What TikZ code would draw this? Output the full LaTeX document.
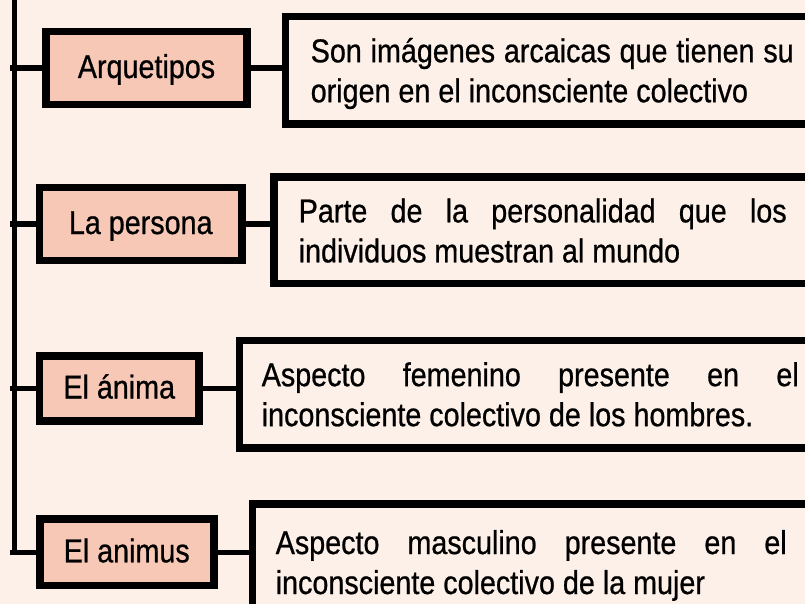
\documentclass[tikz,border=0pt]{standalone}
\usepackage{fontspec}
\setmainfont{Liberation Sans}[FakeStretch=0.87, FakeBold=0.7]
\definecolor{bgpeach}{RGB}{253,240,232}
\definecolor{boxsalmon}{RGB}{247,200,182}
\hyphenpenalty=10000
\exhyphenpenalty=10000
\tolerance=10000
% same top and bottom room in every text box
\newcommand{\topstrut}{\rule{0pt}{32pt}}
\newcommand{\botstrut}{\rule[-8pt]{0pt}{8pt}}

\begin{document}
\begin{tikzpicture}[
    x=1pt, y=-1pt,
    termbox/.style={rectangle, draw, line width=7.5pt, fill=boxsalmon, inner sep=0pt,
        text height=26pt, text depth=6pt, font={\fontsize{33}{40}\selectfont}},
    descbox/.style={rectangle, draw, line width=7.5pt, fill=bgpeach, anchor=west, align=justify,
        font={\fontsize{33}{40}\selectfont}},
    link/.style={line width=5.5pt}
]
    \useasboundingbox (0,0) rectangle (805,604);
    \clip (0,0) rectangle (805,604);
    \fill[bgpeach] (0,0) rectangle (805,604);

    \node[termbox, minimum width=201pt, minimum height=73pt] (b1) at (146.5,68) {Arquetipos};
    \node[termbox, minimum width=202.5pt, minimum height=73pt] (b2) at (140.75,224) {La persona};
    \node[termbox, minimum width=159.5pt, minimum height=65.4pt] (b3) at (119.25,388.5) {El ánima};
    \node[termbox, minimum width=174pt, minimum height=66.3pt] (b4) at (126.75,552.3) {El animus};

    \node[descbox, text width=483pt, inner xsep=25.5pt, minimum height=107.5pt] (d1) at (281.5,70.25)
        {\topstrut Son imágenes arcaicas que tienen su origen en el inconsciente colectivo\botstrut};
    \node[descbox, text width=488pt, inner xsep=24.7pt, minimum height=106.7pt] (d2) at (270.3,230.35)
        {\topstrut Parte de la personalidad que los individuos muestran al mundo\botstrut};
    \node[descbox, text width=537pt, inner xsep=22.5pt, minimum height=107.7pt] (d3) at (235.5,394.15)
        {\topstrut Aspecto femenino presente en el inconsciente colectivo de los hombres.\botstrut};
    \node[descbox, text width=511pt, inner xsep=23.3pt, minimum height=116pt] (d4) at (248.7,562)
        {\topstrut Aspecto masculino presente en el inconsciente colectivo de la mujer\botstrut};

    % trunk on the left
    \coordinate (trunk) at (14.3,-10);
    \coordinate (tick) at (10,0);
    \draw[link] (trunk) -- (trunk |- b4.west);
    \foreach \i in {1,...,4} {
        \draw[link] (tick |- b\i.west) -- (b\i.west);
        \draw[link] (b\i.east) -- (b\i.east -| d\i.west);
    }
\end{tikzpicture}
\end{document}
